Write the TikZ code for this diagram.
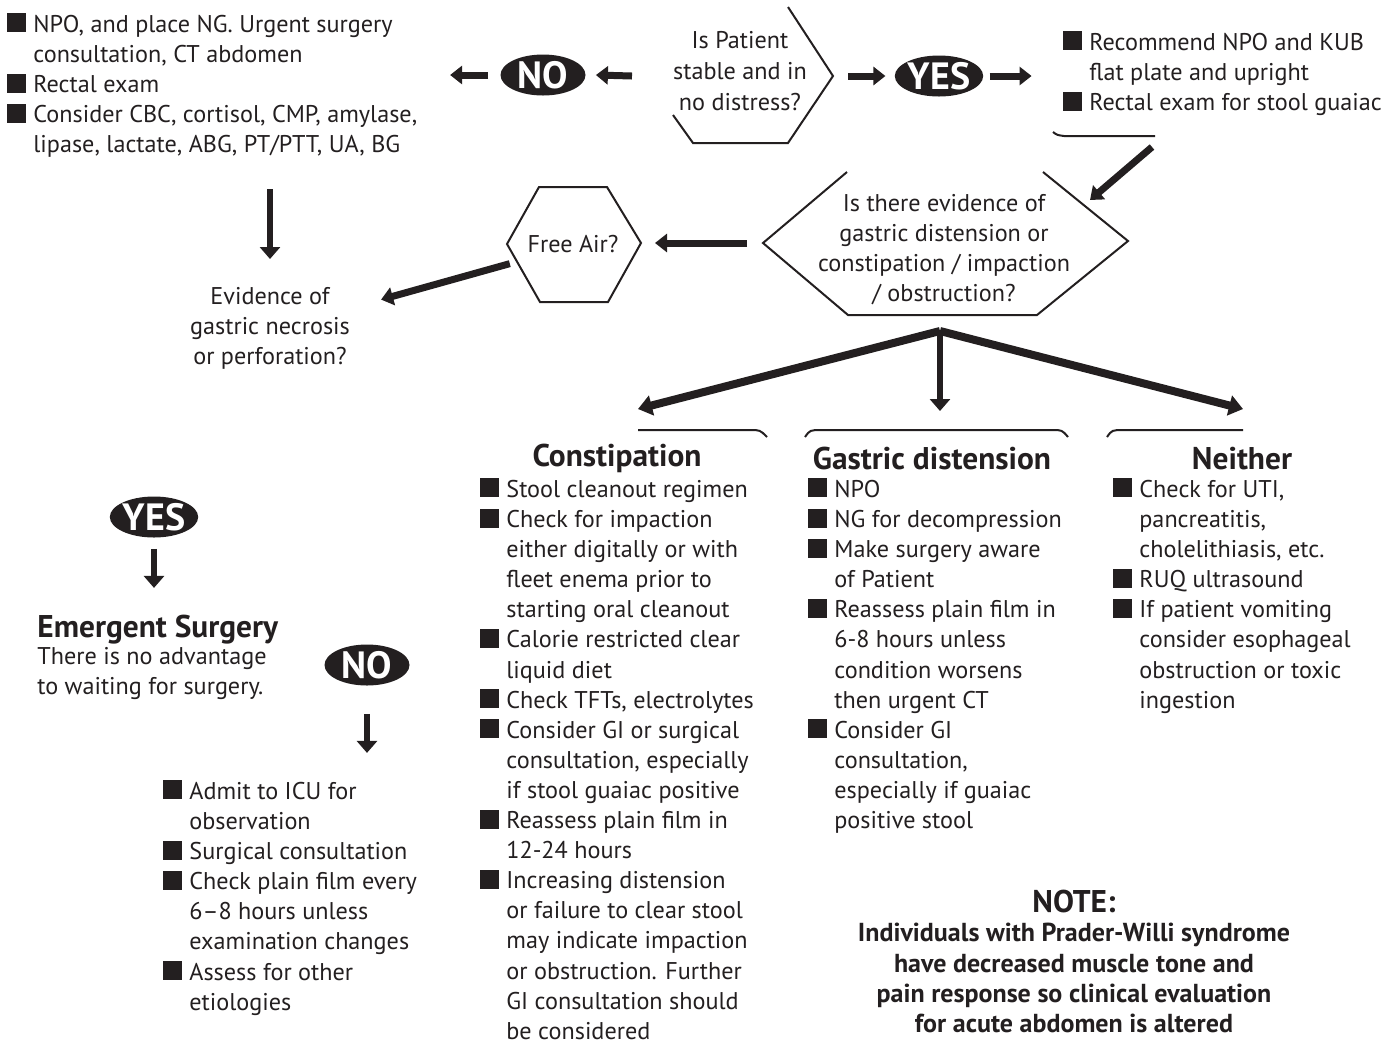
\documentclass[tikz,border=0pt]{standalone}
\usepackage{fontspec}
\setmainfont{PT Sans}
\usetikzlibrary{arrows.meta,shapes.geometric}
\definecolor{ink}{HTML}{231F20}
\newcommand{\bsq}{\makebox[13pt][l]{\rule{9.5pt}{9.5pt}}}
\newcommand{\ind}{\hspace*{13pt}}
\tikzset{
  txt/.style={inner sep=0pt, align=left, text=ink, font=\fontsize{12.1}{15.05}\selectfont, execute at begin node=\strut},
  ctxt/.style={txt, align=center},
  head/.style={inner sep=0pt, text=ink, font=\fontsize{15.7}{17}\selectfont\bfseries},
  ans/.style={ellipse, fill=ink, text=white, inner sep=0pt, minimum width=42.5pt, minimum height=20.5pt, font=\fontsize{19}{20}\selectfont\bfseries},
  hexline/.style={draw=ink, line width=1pt},
  arr/.style={draw=ink, line width=3.5pt, -{Triangle[length=6pt,width=9pt]}},
  darr/.style={draw=ink, line width=3pt, -{Triangle[length=6pt,width=10pt]}},
  barr/.style={draw=ink, line width=4pt, -{Triangle[length=7pt,width=10pt]}}
}
\begin{document}
\begin{tikzpicture}[x=0.5pt,y=-0.5pt]
\useasboundingbox (0,0) rectangle (1399,1046);
% first question
\node[ctxt, anchor=north, font=\fontsize{12.1}{15.5}\selectfont] (stable) at (740,31) {Is Patient\\stable and in\\no distress?};
\coordinate (stR) at (833,76);
\coordinate (stL) at (648,76);
\draw[hexline] (788,7) -- (stR) -- (788,143) -- (693,143) -- (673,115);
\node[ans] (noA) at (543,75) {NO};
\node[ans] (yesA) at (939,76) {YES};
\draw[arr] ([xshift=-8pt]stL) -- ([xshift=5pt]noA.east);
\draw[arr] ([xshift=-6pt]noA.west) -- ++(-38,0);
\draw[arr] ([xshift=7.5pt]stR) -- ([xshift=-4.5pt]yesA.west);
\draw[arr] ([xshift=3pt]yesA.east) -- ++(42,0);
% unstable
\node[txt, anchor=north west] (npo) at (7,13) {\bsq NPO, and place NG. Urgent surgery\\
  \ind consultation, CT abdomen\\
  \bsq Rectal exam\\
  \bsq Consider CBC, cortisol, CMP, amylase,\\
  \ind lipase, lactate, ABG, PT/PTT, UA, BG};
\node[ctxt, anchor=north] (necro) at (270,287) {Evidence of\\gastric necrosis\\or perforation?};
\draw[darr, shorten <=13.5pt, shorten >=14pt] (necro.north |- npo.south) -- (necro.north);
% stable
\node[txt, anchor=north west] (rec) at (1063,31) {\bsq Recommend NPO and KUB\\
  \ind flat plate and upright\\
  \bsq Rectal exam for stool guaiac};
\coordinate (recC) at (1155,136);
\draw[hexline] (1053,132) .. controls (1057,135) .. (1064,136) -- (recC);
\node[ctxt, anchor=north] (evid) at (944,194) {Is there evidence of\\gastric distension or\\constipation / impaction\\/ obstruction?};
\coordinate (evL) at (763,243);
\coordinate (evNE) at (1090,200);
\coordinate (fork) at (940,331);
\draw[hexline] (847,172) -- (evL) -- (848,315) -- (1037,315) -- (1128,241) -- (1043,172);
\draw[arr] ([shift={(-3,11)}]recC) -- (evNE);
% free air
\node[txt, anchor=base] (air) at (573,252) {Free Air?};
\coordinate (airR) at (641,243);
\draw[hexline] (507,244) -- (539,187) -- (607,187) -- (airR) -- (608,302) -- (540,302) -- cycle;
\draw[arr, shorten <=8pt, shorten >=7pt] (evL) -- (airR);
\draw[arr, shorten <=9pt, shorten >=16pt] (air) -- (necro);
% perforation yes / no
\node[ans] (yesB) at (154,517) {YES};
\draw[darr] ([yshift=-5.5pt]yesB.south) -- ++(0,39);
\node[head, anchor=base west] (emerg) at (37,637) {Emergent Surgery};
\node[txt, anchor=north west] (noadv) at (37,647) {There is no advantage\\to waiting for surgery.};
\node[ans] (noB) at (367,665) {NO};
\draw[darr] ([yshift=-14pt]noB.south) -- ++(0,39);
\node[txt, anchor=north west] (icu) at (163,780) {\bsq Admit to ICU for\\
  \ind observation\\
  \bsq Surgical consultation\\
  \bsq Check plain film every\\
  \ind 6–8 hours unless\\
  \ind examination changes\\
  \bsq Assess for other\\
  \ind etiologies};
% three branches
\coordinate (conT) at (638,409);
\coordinate (gasT) at (940,411);
\coordinate (neiT) at (1243,409);
\draw[barr] (fork) -- (conT);
\draw[darr] (fork) -- (gasT);
\draw[barr] (fork) -- (neiT);
\draw[hexline] (638,430) -- (750,430) .. controls (760,430) .. (767,437);
\draw[hexline] (805,437) .. controls (810,430) .. (822,430) -- (1052,430) .. controls (1062,430) .. (1068,437);
\draw[hexline] (1107,437) .. controls (1112,430) .. (1124,430) -- (1243,430);
\node[head, anchor=base] (conH) at (617,466) {Constipation};
\node[txt, anchor=north west] (con) at (480,478) {\bsq Stool cleanout regimen\\
  \bsq Check for impaction\\
  \ind either digitally or with\\
  \ind fleet enema prior to\\
  \ind starting oral cleanout\\
  \bsq Calorie restricted clear\\
  \ind liquid diet\\
  \bsq Check TFTs, electrolytes\\
  \bsq Consider GI or surgical\\
  \ind consultation, especially\\
  \ind if stool guaiac positive\\
  \bsq Reassess plain film in\\
  \ind 12-24 hours\\
  \bsq Increasing distension\\
  \ind or failure to clear stool\\
  \ind may indicate impaction\\
  \ind or obstruction. Further\\
  \ind GI consultation should\\
  \ind be considered};
\node[head, anchor=base] (gasH) at (932,469) {Gastric distension};
\node[txt, anchor=north west] (gas) at (808,478) {\bsq NPO\\
  \bsq NG for decompression\\
  \bsq Make surgery aware\\
  \ind of Patient\\
  \bsq Reassess plain film in\\
  \ind 6-8 hours unless\\
  \ind condition worsens\\
  \ind then urgent CT\\
  \bsq Consider GI\\
  \ind consultation,\\
  \ind especially if guaiac\\
  \ind positive stool};
\node[head, anchor=base] (neiH) at (1242,469) {Neither};
\node[txt, anchor=north west] (nei) at (1113,478) {\bsq Check for UTI,\\
  \ind pancreatitis,\\
  \ind cholelithiasis, etc.\\
  \bsq RUQ ultrasound\\
  \bsq If patient vomiting\\
  \ind consider esophageal\\
  \ind obstruction or toxic\\
  \ind ingestion};
% note
\node[head, anchor=base] (noteH) at (1074,912) {NOTE:};
\node[ctxt, anchor=north, font=\fontsize{13}{15.05}\selectfont\bfseries] (note) at (1074,923) {Individuals with Prader-Willi syndrome\\have decreased muscle tone and\\pain response so clinical evaluation\\for acute abdomen is altered};
\end{tikzpicture}
\end{document}
